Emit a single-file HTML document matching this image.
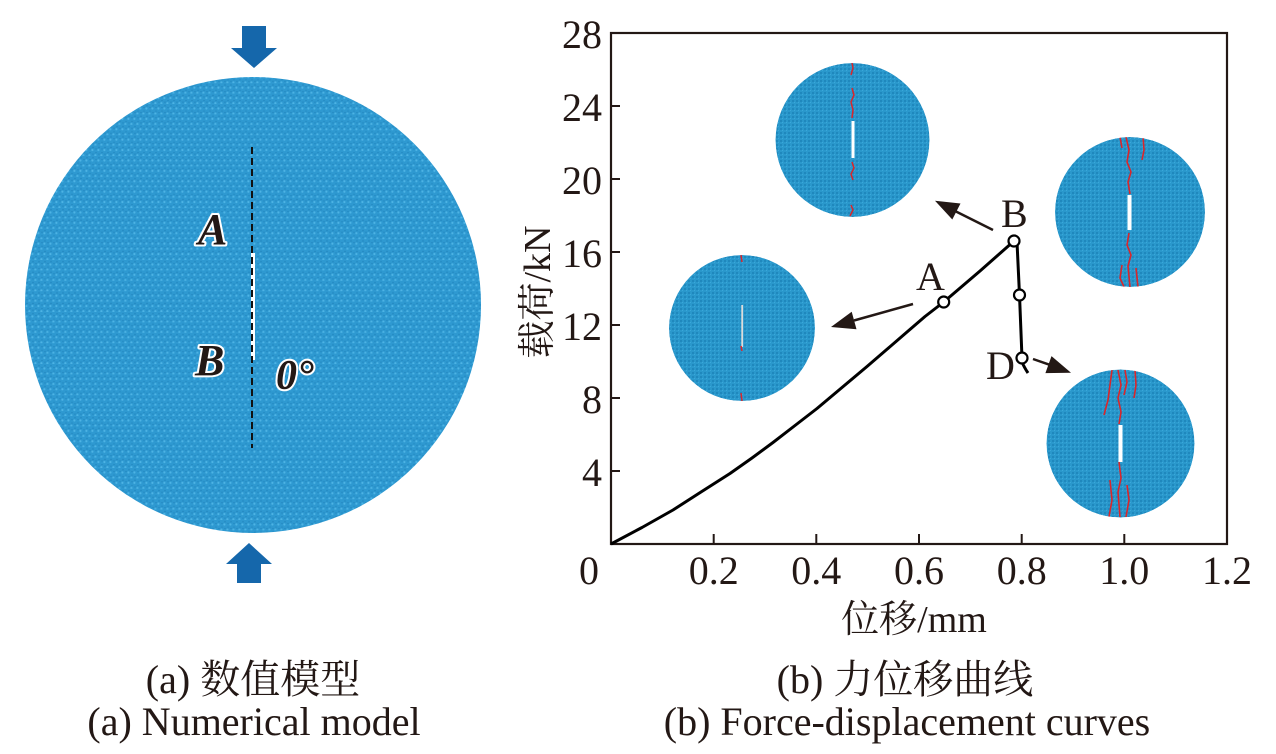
<!DOCTYPE html>
<html>
<head>
<meta charset="utf-8">
<style>
  html,body{margin:0;padding:0;background:#fff;}
  body{width:1276px;height:754px;overflow:hidden;}
  svg{display:block;}
  .t{font-family:"Liberation Serif","Noto Serif CJK SC",serif;fill:#231815;}
</style>
</head>
<body>
<svg width="1276" height="754" viewBox="0 0 1276 754" xmlns="http://www.w3.org/2000/svg">
  <defs>
    <pattern id="balls" width="6" height="10.4" patternUnits="userSpaceOnUse">
      <rect width="6" height="10.4" fill="#1b7cb5"/>
      <circle cx="0" cy="0" r="3.1" fill="#2e99d1"/>
      <circle cx="6" cy="0" r="3.1" fill="#2e99d1"/>
      <circle cx="3" cy="5.2" r="3.1" fill="#2e99d1"/>
      <circle cx="0" cy="10.4" r="3.1" fill="#2e99d1"/>
      <circle cx="6" cy="10.4" r="3.1" fill="#2e99d1"/>
      <circle cx="2.4" cy="4.5" r="1.1" fill="#4db3e4"/>
      <circle cx="5.4" cy="9.7" r="1.1" fill="#4db3e4"/>
      <circle cx="-0.6" cy="9.7" r="1.1" fill="#4db3e4"/>
    </pattern>
    <pattern id="fine" width="4" height="4" patternUnits="userSpaceOnUse">
      <rect width="4" height="4" fill="#2a98cc"/>
      <rect x="0" y="0" width="2" height="2" fill="#1f88bd"/>
      <rect x="2" y="2" width="1" height="1" fill="#3aa8da"/>
    </pattern>
    <clipPath id="c1"><circle cx="852.5" cy="140" r="77"/></clipPath>
    <clipPath id="c2"><circle cx="742" cy="328" r="73"/></clipPath>
    <clipPath id="c3"><circle cx="1130" cy="212" r="75"/></clipPath>
    <clipPath id="c4"><circle cx="1120.5" cy="443.5" r="74"/></clipPath>
  </defs>

  <!-- ===== Left panel: numerical model ===== -->
  <polygon points="242,26 266,26 266,48 277,48 254,68 231,48 242,48" fill="#1567ab"/>
  <circle cx="253" cy="305" r="228" fill="url(#balls)"/>
  <polygon points="249,543 272,564 261,564 261,583 237,583 237,564 226,564" fill="#1567ab"/>

  <rect x="251" y="253" width="4" height="107" fill="#ffffff"/>
  <line x1="252" y1="147" x2="252" y2="448" stroke="#111" stroke-width="2" stroke-dasharray="7,4"/>

  <text x="198" y="244" class="t" font-size="44" font-style="italic" font-weight="bold" stroke="#fff" stroke-width="4" paint-order="stroke" stroke-linejoin="round">A</text>
  <text x="195" y="375" class="t" font-size="44" font-style="italic" font-weight="bold" stroke="#fff" stroke-width="4" paint-order="stroke" stroke-linejoin="round">B</text>
  <text x="276" y="389" class="t" font-size="42" font-style="italic" font-weight="bold" stroke="#fff" stroke-width="4" paint-order="stroke" stroke-linejoin="round">0°</text>

  <!-- ===== Right panel: chart ===== -->
  <g clip-path="url(#c1)">
    <circle cx="852.5" cy="140" r="77" fill="url(#fine)"/>
    <rect x="851.5" y="121" width="3" height="37" fill="#fff"/>
    <g stroke="#d9262b" stroke-width="1.5" fill="none">
      <polyline points="852,63 853,68 851,75"/>
      <polyline points="852,88 854,95 851,102 853,110 852,118"/>
      <polyline points="852,162 854,168 851,174 853,180"/>
      <polyline points="851,205 853,210 850,216"/>
    </g>
  </g>
  <g clip-path="url(#c2)">
    <circle cx="742" cy="328" r="73" fill="url(#fine)"/>
    <rect x="741.3" y="305" width="1.8" height="42" fill="#dcdcdc"/>
    <g stroke="#d9262b" stroke-width="1.5" fill="none">
      <polyline points="741,255 742,262"/>
      <polyline points="741,346 742,351"/>
      <polyline points="741,393 742,401"/>
    </g>
  </g>
  <g clip-path="url(#c3)">
    <circle cx="1130" cy="212" r="75" fill="url(#fine)"/>
    <rect x="1127.5" y="195" width="4" height="35" fill="#fff"/>
    <g stroke="#d9262b" stroke-width="1.6" fill="none">
      <polyline points="1126,137 1129,150 1127,162 1131,172 1128,182 1130,194"/>
      <polyline points="1143,137 1144,150 1142,160"/>
      <polyline points="1120,137 1122,148"/>
      <polyline points="1129,233 1127,245 1131,255 1128,266 1130,287"/>
      <polyline points="1122,265 1120,278 1124,287"/>
      <polyline points="1136,268 1138,287"/>
    </g>
  </g>
  <g clip-path="url(#c4)">
    <circle cx="1120.5" cy="443.5" r="74" fill="url(#fine)"/>
    <rect x="1118.5" y="425" width="4" height="37" fill="#fff"/>
    <g stroke="#d9262b" stroke-width="1.6" fill="none">
      <polyline points="1112,370 1110,385 1108,400 1104,415"/>
      <polyline points="1118,370 1121,385 1118,398 1121,412 1119,424"/>
      <polyline points="1125,370 1127,382 1124,395"/>
      <polyline points="1135,370 1136,385 1134,398"/>
      <polyline points="1119,462 1121,478 1118,492 1120,517"/>
      <polyline points="1110,480 1112,500 1109,517"/>
      <polyline points="1127,485 1129,500 1126,517"/>
    </g>
  </g>

  <!-- axes frame -->
  <rect x="611" y="33" width="616" height="511" fill="none" stroke="#231815" stroke-width="2.2"/>
  <g stroke="#231815" stroke-width="2">
    <line x1="611" y1="471" x2="620" y2="471"/>
    <line x1="611" y1="398" x2="620" y2="398"/>
    <line x1="611" y1="325" x2="620" y2="325"/>
    <line x1="611" y1="252" x2="620" y2="252"/>
    <line x1="611" y1="179" x2="620" y2="179"/>
    <line x1="611" y1="106" x2="620" y2="106"/>
    <line x1="713.7" y1="544" x2="713.7" y2="534"/>
    <line x1="816.3" y1="544" x2="816.3" y2="534"/>
    <line x1="919" y1="544" x2="919" y2="534"/>
    <line x1="1021.7" y1="544" x2="1021.7" y2="534"/>
    <line x1="1124.3" y1="544" x2="1124.3" y2="534"/>
  </g>

  <g class="t" font-size="40" text-anchor="end">
    <text x="602" y="48">28</text>
    <text x="602" y="121">24</text>
    <text x="602" y="194">20</text>
    <text x="602" y="267">16</text>
    <text x="602" y="340">12</text>
    <text x="602" y="413">8</text>
    <text x="602" y="486">4</text>
  </g>
  <g class="t" font-size="40" text-anchor="middle">
    <text x="589" y="584">0</text>
    <text x="713.7" y="584">0.2</text>
    <text x="816.3" y="584">0.4</text>
    <text x="919" y="584">0.6</text>
    <text x="1021.7" y="584">0.8</text>
    <text x="1124.3" y="584">1.0</text>
    <text x="1227" y="584">1.2</text>
  </g>

  <text x="914" y="632" class="t" font-size="38" text-anchor="middle">位移/mm</text>
  <text transform="translate(550,292) rotate(-90)" class="t" font-size="38" text-anchor="middle">载荷/kN</text>

  <!-- curve -->
  <polyline fill="none" stroke="#000" stroke-width="3" stroke-linejoin="round"
    points="611,544 642,527.5 673,510 701,492 730,473.5 752,458 773,442.5 795,425.5 817,408.5 842,387.5 867,366.5 887,349.3 907,332 925,316.5 943.7,302 980,271 1014,241"/>
  <polyline fill="none" stroke="#000" stroke-width="3" stroke-linejoin="round"
    points="1017,242 1019.5,295 1022,358"/>
  <path d="M1022,362 Q1024,367 1028,373" fill="none" stroke="#000" stroke-width="3"/>

  <g fill="#fff" stroke="#000" stroke-width="2.2">
    <circle cx="943.7" cy="302" r="5.5"/>
    <circle cx="1014" cy="241" r="5.5"/>
    <circle cx="1019.5" cy="295" r="5.5"/>
    <circle cx="1022" cy="358" r="5.5"/>
  </g>

  <text x="916" y="290" class="t" font-size="40">A</text>
  <text x="1001" y="227" class="t" font-size="40">B</text>
  <text x="986" y="379" class="t" font-size="40">D</text>

  <g stroke="#231815" stroke-width="2.5">
    <line x1="993" y1="230" x2="956" y2="211.5"/>
    <line x1="913" y1="304" x2="854" y2="320.5"/>
    <line x1="1033" y1="359" x2="1049" y2="364.6"/>
  </g>
  <g fill="#231815">
    <polygon points="935,200.7 960.5,203.5 952.3,219.5"/>
    <polygon points="831,327 856.5,329.2 851.7,311.8"/>
    <polygon points="1071,372.7 1045.4,373.1 1051.5,356.1"/>
  </g>

  <!-- captions -->
  <text x="253" y="693" class="t" font-size="40" text-anchor="middle">(a) 数值模型</text>
  <text x="254" y="735" class="t" font-size="40" text-anchor="middle">(a) Numerical model</text>
  <text x="905" y="693" class="t" font-size="40" text-anchor="middle">(b) 力位移曲线</text>
  <text x="907" y="735" class="t" font-size="40" text-anchor="middle">(b) Force-displacement curves</text>
</svg>
</body>
</html>
